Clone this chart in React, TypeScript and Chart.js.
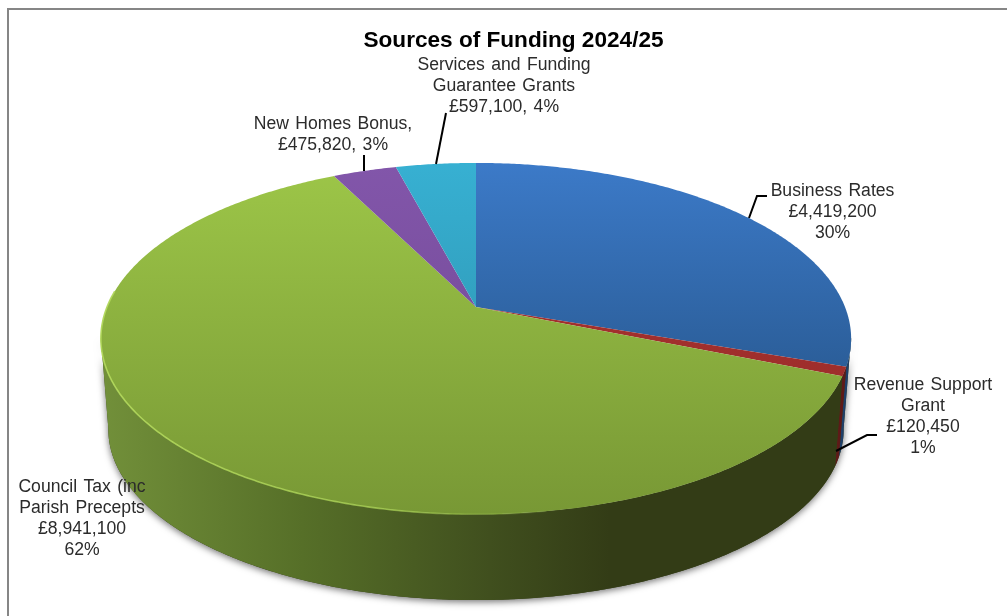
import React, { useEffect, useRef } from "react";
import { Chart, registerables } from "chart.js";

Chart.register(...registerables);

const categories = [
  "Business Rates",
  "Revenue Support Grant",
  "Council Tax (inc Parish Precepts",
  "New Homes Bonus",
  "Services and Funding Guarantee Grants",
];
const amounts = [4419200, 120450, 8941100, 475820, 597100];
const percents = ["30%", "1%", "62%", "3%", "4%"];

const surfaceTop = ["#3c7ac8", "#ad3431", "#9dc648", "#8256aa", "#37b0d2"];
const surfaceBottom = ["#1f4a78", "#952a28", "#789835", "#6e4590", "#2a8aa5"];
const wallDark = ["#1f3f68", "#5e1a18", "#333c16", "#4a2f66", "#1c5f72"];
const wallLight = ["#2f5f98", "#8a2825", "#72903a", "#6e4590", "#2a8aa5"];

const money = (n: number) => "£" + n.toLocaleString("en-GB");

// Wrapped text of each data label, built from the slice values.
const labelLines = [
  ["Business Rates", money(amounts[0]), percents[0]],
  ["Revenue Support", "Grant", money(amounts[1]), percents[1]],
  ["Council Tax (inc", "Parish Precepts", money(amounts[2]), percents[2]],
  ["New Homes Bonus,", `${money(amounts[3])}, ${percents[3]}`],
  ["Services and Funding", "Guarantee Grants", `${money(amounts[4])}, ${percents[4]}`],
];
const labelAnchors = [
  { x: 832.5, y: 191.6 },
  { x: 923, y: 385.6 },
  { x: 82, y: 487.6 },
  { x: 333, y: 124.6 },
  { x: 504, y: 65.6 },
];
const leaderPaths: number[][][] = [
  [[767, 196], [757, 196], [749, 218]],
  [[877, 435], [867, 435], [836, 451]],
  [],
  [[364, 155], [364, 171]],
  [[446, 113], [436, 164]],
];

// Perspective projection of the tilted disc onto the canvas.
const disc = { cx: 476, cy: 307, rx: 369, ry: 170, k: 0.18 };
// The lower face sits behind and below the upper one.
const lower = { y: 399, sx: 0.98, sy: 0.97 };

const project = (angle: number) => {
  const u = Math.cos(angle);
  const v = Math.sin(angle);
  const w = 1 - disc.k * v;
  return { x: disc.cx + (disc.rx * u) / w, y: disc.cy + (disc.ry * v) / w };
};
const projectLower = (angle: number) => {
  const p = project(angle);
  return {
    x: disc.cx + lower.sx * (p.x - disc.cx),
    y: lower.y + lower.sy * (p.y - disc.cy),
  };
};

const STEP = Math.PI / 360;
const sweep = (a0: number, a1: number) => {
  const out: number[] = [];
  for (let a = a0; a < a1; a += STEP) out.push(a);
  out.push(a1);
  return out;
};

const pieDepthPlugin = {
  id: "pieDepth",
  beforeDatasetDraw(chart: any) {
    const { ctx } = chart;
    const arcs = chart.getDatasetMeta(0).data as any[];
    const visible = (a: number) => Math.sin(a) >= disc.k * 0.95;

    // Soft shadow under the side wall, traced round its whole outline.
    const outline = sweep(0, Math.PI * 2).filter(visible);
    ctx.save();
    ctx.shadowColor = "rgba(0,0,0,0.55)";
    ctx.shadowBlur = 7;
    ctx.shadowOffsetY = 2;
    ctx.fillStyle = "#333c16";
    ctx.beginPath();
    outline.forEach((a, i) => {
      const p = projectLower(a);
      i ? ctx.lineTo(p.x, p.y) : ctx.moveTo(p.x, p.y);
    });
    [...outline].reverse().forEach((a) => {
      const p = project(a);
      ctx.lineTo(p.x, p.y);
    });
    ctx.closePath();
    ctx.fill();
    ctx.restore();

    // Side walls, only the part of each slice that faces the viewer.
    arcs.forEach((arc, i) => {
      const angles = sweep(arc.startAngle, arc.endAngle).filter(visible);
      if (angles.length < 2) return;
      const g = ctx.createLinearGradient(100, 0, 850, 0);
      g.addColorStop(0, wallLight[i]);
      g.addColorStop(0.27, i === 2 ? "#566f28" : wallLight[i]);
      g.addColorStop(0.52, i === 2 ? "#404f1e" : wallDark[i]);
      g.addColorStop(0.68, wallDark[i]);
      g.addColorStop(1, wallDark[i]);
      ctx.fillStyle = g;
      ctx.beginPath();
      angles.forEach((a, j) => {
        const p = project(a);
        j ? ctx.lineTo(p.x, p.y) : ctx.moveTo(p.x, p.y);
      });
      [...angles].reverse().forEach((a) => {
        const p = projectLower(a);
        ctx.lineTo(p.x, p.y);
      });
      ctx.closePath();
      ctx.fill();
    });

    // Upper face of every slice.
    arcs.forEach((arc, i) => {
      const g = ctx.createLinearGradient(0, 163, 0, 514);
      g.addColorStop(0, surfaceTop[i]);
      g.addColorStop(1, surfaceBottom[i]);
      ctx.fillStyle = g;
      ctx.beginPath();
      ctx.moveTo(disc.cx, disc.cy);
      sweep(arc.startAngle, arc.endAngle).forEach((a) => {
        const p = project(a);
        ctx.lineTo(p.x, p.y);
      });
      ctx.closePath();
      ctx.fill();
    });

    // Bevel highlight along the near-left rim.
    const rim = ctx.createLinearGradient(100, 0, 580, 0);
    rim.addColorStop(0, "rgba(178,216,92,0.95)");
    rim.addColorStop(0.6, "rgba(170,210,85,0.75)");
    rim.addColorStop(1, "rgba(150,190,70,0)");
    ctx.save();
    ctx.strokeStyle = rim;
    ctx.lineWidth = 1.6;
    ctx.beginPath();
    sweep(Math.PI * 0.45, Math.PI * 1.03).forEach((a, i) => {
      const p = project(a);
      i ? ctx.lineTo(p.x, p.y) : ctx.moveTo(p.x, p.y);
    });
    ctx.stroke();
    ctx.restore();

    return false;
  },
  afterDraw(chart: any) {
    const { ctx } = chart;
    ctx.save();

    ctx.strokeStyle = "#000000";
    ctx.lineWidth = 2;
    leaderPaths.forEach((path) => {
      if (!path.length) return;
      ctx.beginPath();
      path.forEach(([x, y], i) => (i ? ctx.lineTo(x, y) : ctx.moveTo(x, y)));
      ctx.stroke();
    });

    ctx.fillStyle = "#2b2b2b";
    ctx.font = '17.6px "Liberation Sans"';
    ctx.textAlign = "center";
    ctx.textBaseline = "middle";
    ctx.wordSpacing = "1.5px";
    labelLines.forEach((lines, i) => {
      lines.forEach((line, j) => {
        ctx.fillText(line, labelAnchors[i].x, labelAnchors[i].y + j * 20.7);
      });
    });
    ctx.restore();
  },
  beforeDraw(chart: any) {
    // Frame of the chart area; it runs off the right and bottom of the page.
    const { ctx } = chart;
    ctx.save();
    ctx.fillStyle = "#ffffff";
    ctx.fillRect(0, 0, chart.width, chart.height);
    ctx.strokeStyle = "#868686";
    ctx.lineWidth = 2;
    ctx.strokeRect(8, 9, chart.width + 20, chart.height + 20);
    ctx.restore();
  },
};

export default function App() {
  const ref = useRef<HTMLCanvasElement>(null);

  useEffect(() => {
    if (!ref.current) return;
    const chart = new Chart(ref.current, {
      type: "pie",
      data: {
        labels: categories,
        datasets: [{ data: amounts, backgroundColor: surfaceTop, borderWidth: 0 }],
      },
      options: {
        responsive: false,
        animation: false,
        layout: { padding: { left: 20, top: 25 } },
        plugins: {
          legend: { display: false },
          tooltip: { enabled: false },
          title: {
            display: true,
            text: "Sources of Funding 2024/25",
            color: "#000000",
            font: { family: '"Liberation Sans"', size: 22.6, weight: "bold" },
            padding: { top: 2, bottom: 10 },
          },
        },
      },
      plugins: [pieDepthPlugin],
    });
    return () => chart.destroy();
  }, []);

  return (
    <div style={{ position: "fixed", left: 0, top: 0, width: 1007, height: 616 }}>
      <canvas ref={ref} width={1007} height={616} style={{ display: "block" }} />
    </div>
  );
}
